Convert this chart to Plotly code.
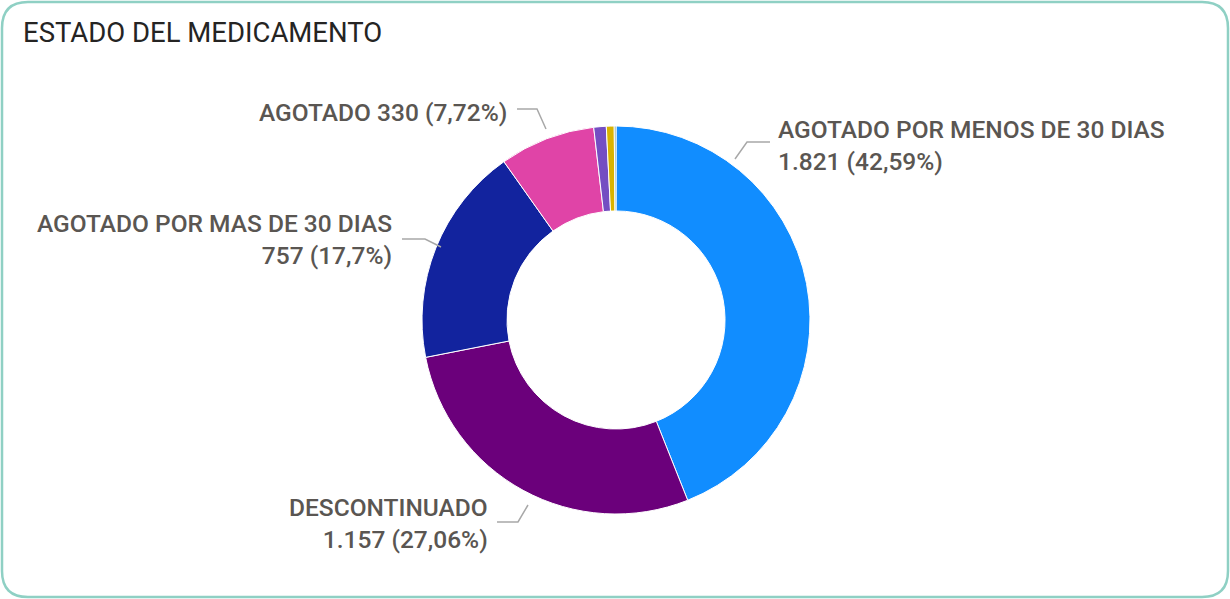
import plotly.graph_objects as go

# ---- data ----
categorias = ["AGOTADO POR MENOS DE 30 DIAS", "DESCONTINUADO", "AGOTADO POR MAS DE 30 DIAS",
              "AGOTADO", "SUSPENDIDO", "EN TRÁMITE", "SIN INFORMACIÓN"]
valores = [1821, 1157, 757, 330, 43, 27, 6]
porcentajes = ["42,59%", "27,06%", "17,7%", "7,72%", "", "", ""]
valores_txt = ["1.821", "1.157", "757", "330", "", "", ""]
colores = ["#118DFF", "#6B007B", "#12239E", "#E044A7", "#744EC2", "#D9B300", "#6E9C8E"]

W, H = 1230, 599

def px(x, y):
    return x / W, 1 - y / H

fig = go.Figure()

cx, cy, r = 616, 320, 194
x0, y0 = px(cx - r, cy + r)
x1, y1 = px(cx + r, cy - r)

fig.add_trace(go.Pie(
    labels=categorias, values=valores, hole=0.562, sort=False, direction="clockwise",
    rotation=0, marker=dict(colors=colores, line=dict(color="white", width=1)),
    textinfo="none", showlegend=False,
    domain=dict(x=[x0, x1], y=[y0, y1]),
    hovertemplate="%{label}<br>%{value}<extra></extra>",
))

lab_font = dict(family="Roboto", size=24.5, color="#5A5652", weight=500)

annots = [
    dict(text=f"{categorias[0]}<br>{valores_txt[0]} ({porcentajes[0]})", x=776, y=145, xanchor="left", align="left"),
    dict(text=f"{categorias[3]} {valores_txt[3]} ({porcentajes[3]})", x=509, y=112, xanchor="right", align="right"),
    dict(text=f"{categorias[2]}<br>{valores_txt[2]} ({porcentajes[2]})", x=394, y=240, xanchor="right", align="right"),
    dict(text=f"{categorias[1]}<br>{valores_txt[1]} ({porcentajes[1]})", x=490, y=523, xanchor="right", align="right"),
]
for a in annots:
    ax, ay = px(a["x"], a["y"])
    fig.add_annotation(text=a["text"], x=ax, y=ay, xref="paper", yref="paper",
                       xanchor=a["xanchor"], yanchor="middle", align=a["align"],
                       showarrow=False, font=lab_font)

# title
tx, ty = px(21, 32)
fig.add_annotation(text="ESTADO DEL MEDICAMENTO", x=tx, y=ty, xref="paper", yref="paper",
                   xanchor="left", yanchor="middle", showarrow=False,
                   font=dict(family="Roboto", size=27.5, color="#252423"))

# leader lines
leaders = [
    [(735, 159), (747, 142), (770, 142)],
    [(517, 109), (537, 109), (546, 129)],
    [(402, 239), (425, 239), (441, 247)],
    [(497, 522), (518, 522), (528, 505)],
]
for pts in leaders:
    path = ""
    for i, (x, y) in enumerate(pts):
        u, v = px(x, y)
        path += ("M" if i == 0 else " L") + f" {u:.5f},{v:.5f}"
    fig.add_shape(type="path", path=path, xref="paper", yref="paper",
                  line=dict(color="#A8A8A8", width=1.5))

# rounded card border
rad = 26
L, T, R, B = 2, 2, W - 2, H - 2
def P(x, y):
    u, v = px(x, y)
    return f"{u:.5f},{v:.5f}"
border = (f"M {P(L+rad, T)} L {P(R-rad, T)} Q {P(R, T)} {P(R, T+rad)} "
          f"L {P(R, B-rad)} Q {P(R, B)} {P(R-rad, B)} L {P(L+rad, B)} "
          f"Q {P(L, B)} {P(L, B-rad)} L {P(L, T+rad)} Q {P(L, T)} {P(L+rad, T)} Z")
fig.add_shape(type="path", path=border, xref="paper", yref="paper",
              line=dict(color="#8FD0C4", width=2.5))

fig.update_layout(width=W, height=H, margin=dict(l=0, r=0, t=0, b=0),
                  paper_bgcolor="white", plot_bgcolor="white")

fig.write_html("out.html", config={"displayModeBar": False},
               post_script="document.body.style.margin='0';document.body.style.overflow='hidden';")
